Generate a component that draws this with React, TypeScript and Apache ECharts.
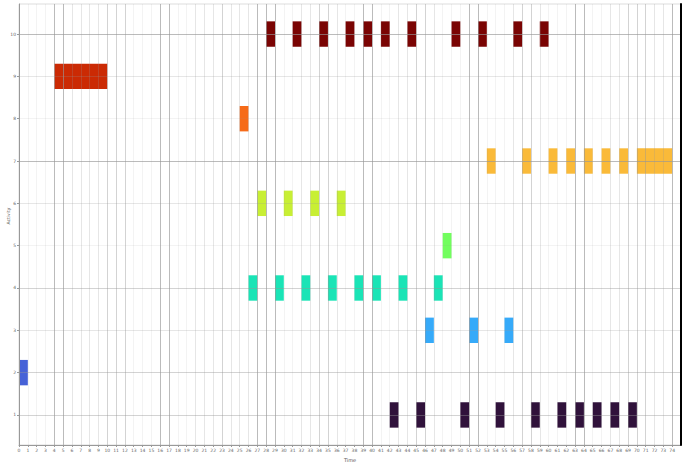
import React, { useEffect, useRef } from "react";
import * as echarts from "echarts";

// Activity rows (y values) and their time segments [start, end]
const ACTIVITIES = [1, 2, 3, 4, 5, 6, 7, 8, 9, 10];
const ACTIVITY_1 = [[42, 43], [45, 46], [50, 51], [54, 55], [58, 59], [61, 62], [63, 64], [65, 66], [67, 68], [69, 70]];
const ACTIVITY_2 = [[0, 1]];
const ACTIVITY_3 = [[46, 47], [51, 52], [55, 56]];
const ACTIVITY_4 = [[26, 27], [29, 30], [32, 33], [35, 36], [38, 39], [40, 41], [43, 44], [47, 48]];
const ACTIVITY_5 = [[48, 49]];
const ACTIVITY_6 = [[27, 28], [30, 31], [33, 34], [36, 37]];
const ACTIVITY_7 = [[53, 54], [57, 58], [60, 61], [62, 63], [64, 65], [66, 67], [68, 69], [70, 74]];
const ACTIVITY_8 = [[25, 26]];
const ACTIVITY_9 = [[4, 10]];
const ACTIVITY_10 = [[28, 29], [31, 32], [34, 35], [37, 38], [39, 40], [41, 42], [44, 45], [49, 50], [52, 53], [56, 57], [59, 60]];
const SEGMENTS = [ACTIVITY_1, ACTIVITY_2, ACTIVITY_3, ACTIVITY_4, ACTIVITY_5, ACTIVITY_6, ACTIVITY_7, ACTIVITY_8, ACTIVITY_9, ACTIVITY_10];

const COLORS = ["#30123b", "#4662d7", "#36aaf9", "#1ae4b6", "#72fe5e", "#c8ef34", "#faba39", "#f66b19", "#cb2a04", "#7a0403"];

const X_NAME = "Time";
const Y_NAME = "Activity";
const X_MIN = 0;
const X_MAX = 75;
const Y_MIN = 0.29;
const Y_MAX = 10.71;

// grid line shades
const D = "rgba(150,150,150,0.65)";
const M = "rgba(150,150,150,0.42)";
const L = "rgba(150,150,150,0.24)";
const V = "rgba(150,150,150,0.11)";
const X_LINE_SHADES = [
  D, V, V, V, D, D, L, L, L, L, M, M, M, V, V, V, D, D, V, V,
  L, L, L, M, L, L, L, D, D, D, V, V, L, L, M, M, L, V, V, D,
  D, V, V, L, L, M, M, L, V, V, V, D, D, V, V, V, L, M, M, L,
  V, V, V, D, D, V, V, L, L, M, M, M, L, L, D, D,
];
const Y_LINE_SHADES = [M, M, L, M, V, L, D, V, L, D];

export default function App() {
  const ref = useRef<HTMLDivElement>(null);
  useEffect(() => {
    if (!ref.current) return;
    const chart = echarts.init(ref.current, null, { renderer: "svg" });
    const data: any[] = [];
    SEGMENTS.forEach((segs, i) => {
      segs.forEach((s) => {
        data.push({ value: [s[0], s[1], ACTIVITIES[i]], itemStyle: { color: COLORS[i] } });
      });
    });
    const labelStyle = { fontSize: 4.5, color: "#666", fontFamily: "DejaVu Sans" };
    chart.setOption({
      animation: false,
      grid: {
        left: 19, right: 5, top: 4, bottom: 18,
        outerBoundsMode: "none",
        containLabel: false,
        show: true, borderColor: "#dddddd", borderWidth: 1,
      },
      graphic: [
        {
          type: "text",
          x: 8,
          y: 216,
          rotation: Math.PI / 2,
          style: {
            text: Y_NAME,
            fontSize: 4.5,
            fill: "#555",
            fontFamily: "DejaVu Sans",
            align: "center",
            verticalAlign: "middle",
          },
        },
      ],
      xAxis: {
        type: "value",
        min: X_MIN,
        max: X_MAX,
        interval: 1,
        z: 5,
        name: X_NAME,
        nameLocation: "middle",
        nameGap: 7,
        nameTextStyle: { fontSize: 5, color: "#555", fontFamily: "DejaVu Sans" },
        axisLine: { show: true, lineStyle: { color: "#999", width: 1 } },
        axisTick: { show: true, length: 2, lineStyle: { color: "#999" } },
        axisLabel: { ...labelStyle, margin: 3, showMaxLabel: false },
        splitLine: { show: true, lineStyle: { color: X_LINE_SHADES, width: 1 } },
      },
      yAxis: [
        {
          type: "value",
          min: Y_MIN,
          max: Y_MAX,
          z: 5,
          axisLine: { show: true, lineStyle: { color: "#999", width: 1 } },
          axisTick: { show: true, length: 2, lineStyle: { color: "#999" }, customValues: ACTIVITIES },
          axisLabel: { ...labelStyle, margin: 3, customValues: ACTIVITIES },
          splitLine: { show: true, lineStyle: { color: Y_LINE_SHADES, width: 1 } },
        },
        {
          type: "value",
          position: "right",
          min: Y_MIN,
          max: Y_MAX,
          z: 6,
          axisLine: { show: true, lineStyle: { color: "#000", width: 2 } },
          axisTick: { show: false },
          axisLabel: { show: false },
          splitLine: { show: false },
        },
      ],
      series: [
        {
          type: "custom",
          z: 2,
          clip: true,
          encode: { x: [0, 1], y: 2 },
          renderItem: (params: any, api: any) => {
            const start = api.coord([api.value(0), api.value(2)]);
            const end = api.coord([api.value(1), api.value(2)]);
            const h = api.size([0, 0.6])[1];
            return {
              type: "rect",
              shape: { x: start[0], y: start[1] - h / 2, width: end[0] - start[0], height: h },
              style: { fill: api.visual("color") },
            };
          },
          data,
        },
      ],
    });
    return () => chart.dispose();
  }, []);
  return <div ref={ref} style={{ width: 686, height: 463, position: "absolute", left: 0, top: 0 }} />;
}
